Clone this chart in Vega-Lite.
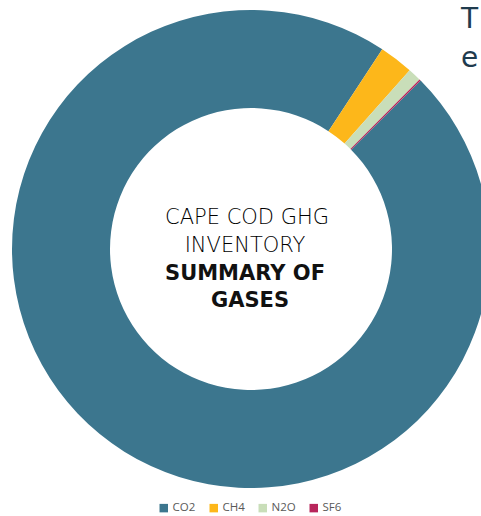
{
  "$schema": "https://vega.github.io/schema/vega-lite/v6.json",
  "width": 502,
  "height": 498,
  "autosize": "none",
  "padding": {"left": 0, "top": 0, "right": 0, "bottom": 18},
  "background": "white",
  "view": {"stroke": null},
  "layer": [
    {
      "data": {"values": [
        {"gas": "CO2", "share": 96.7, "ord": 1},
        {"gas": "CH4", "share": 2.3, "ord": 2},
        {"gas": "N2O", "share": 0.9, "ord": 3},
        {"gas": "SF6", "share": 0.1, "ord": 4}
      ]},
      "mark": {"type": "arc", "innerRadius": 141, "outerRadius": 239},
      "encoding": {
        "theta": {"field": "share", "type": "quantitative", "stack": true, "scale": {"range": [0.789, 7.072]}},
        "order": {"field": "ord", "type": "quantitative"},
        "color": {
          "field": "gas", "type": "nominal",
          "scale": {"domain": ["CO2", "CH4", "N2O", "SF6"], "range": ["#3C768E", "#FDB71A", "#C9DEB9", "#B8255B"]},
          "legend": {
            "orient": "none", "legendX": 158, "legendY": 502, "direction": "horizontal",
            "title": null, "symbolType": "square", "symbolSize": 72, "symbolStrokeWidth": 0,
            "labelFont": "Open Sans", "labelFontSize": 11.5, "labelColor": "#595959",
            "columnPadding": 12, "symbolOffset": 0, "labelOffset": 3, "padding": 0
          }
        }
      }
    },
    {
      "data": {"values": [{"t": "CAPE COD GHG"}]},
      "mark": {"type": "text", "font": "DejaVu Sans", "fontSize": 21, "fontWeight": 300, "color": "#000000", "align": "center", "baseline": "middle", "dy": -31, "dx": -4},
      "encoding": {"text": {"field": "t"}}
    },
    {
      "data": {"values": [{"t": "INVENTORY"}]},
      "mark": {"type": "text", "font": "DejaVu Sans", "fontSize": 21, "fontWeight": 300, "color": "#000000", "align": "center", "baseline": "middle", "dy": -3, "dx": -6},
      "encoding": {"text": {"field": "t"}}
    },
    {
      "data": {"values": [{"t": "SUMMARY OF"}]},
      "mark": {"type": "text", "font": "DejaVu Sans", "fontSize": 21, "fontWeight": "bold", "color": "#111111", "align": "center", "baseline": "middle", "dy": 25, "dx": -6},
      "encoding": {"text": {"field": "t"}}
    },
    {
      "data": {"values": [{"t": "GASES"}]},
      "mark": {"type": "text", "font": "DejaVu Sans", "fontSize": 21, "fontWeight": "bold", "color": "#111111", "align": "center", "baseline": "middle", "dy": 52, "dx": -1},
      "encoding": {"text": {"field": "t"}}
    },
    {
      "data": {"values": [{"t": "T"}]},
      "mark": {"type": "text", "font": "DejaVu Sans", "fontSize": 28, "fontWeight": "normal", "color": "#1F3B4E", "align": "left", "baseline": "alphabetic", "x": 461, "y": 28},
      "encoding": {"text": {"field": "t"}}
    },
    {
      "data": {"values": [{"t": "e"}]},
      "mark": {"type": "text", "font": "DejaVu Sans", "fontSize": 28, "fontWeight": "normal", "color": "#1F3B4E", "align": "left", "baseline": "alphabetic", "x": 461, "y": 67},
      "encoding": {"text": {"field": "t"}}
    }
  ]
}
